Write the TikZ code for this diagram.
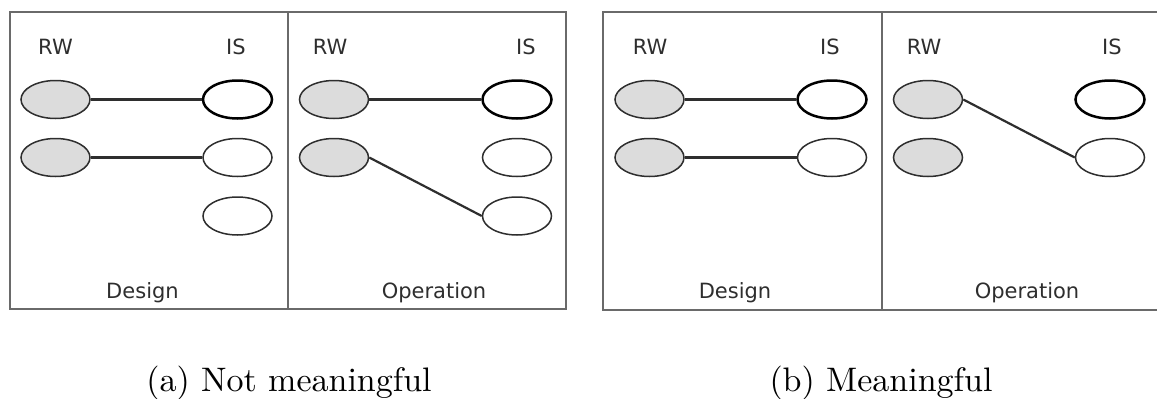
\documentclass[tikz,border=0pt]{standalone}
\usepackage{fontspec}
\newfontfamily\handfont{DejaVu Sans}
\usetikzlibrary{shapes.geometric}
\definecolor{frame}{HTML}{6A6A6A}
\definecolor{ink}{HTML}{2E2E2E}
\definecolor{rwfill}{HTML}{DCDCDC}
\tikzset{
  panel/.style={draw=frame, line width=2pt},
  rw/.style={ellipse, draw=ink, line width=1.5pt, fill=rwfill, minimum width=69pt, minimum height=38pt, inner sep=0pt},
  is/.style={ellipse, draw=ink, line width=1.5pt, fill=white, minimum width=69pt, minimum height=38pt, inner sep=0pt},
  istop/.style={is, draw=black, line width=2.5pt},
  link/.style={draw=ink, line width=2.2pt},
  head/.style={font=\handfont\fontsize{21}{24}\selectfont, text=ink, anchor=base, inner sep=0pt},
  subcap/.style={anchor=base, inner sep=0pt}
}
\begin{document}
\begin{tikzpicture}[x=1pt, y=-1pt]
\useasboundingbox (0,0) rectangle (1157,399);
\begin{scope}
\clip (0,0) rectangle (1157,399);
% frames
\draw[panel] (10,12) rectangle (566,309);
\draw[panel] (288,12) -- (288,309);
\draw[panel] (603,12) rectangle (1162,310);
\draw[panel] (882,12) -- (882,310);
\end{scope}

% (a) design
\node[head] (aDrw) at (55.5,54) {RW};
\node[head] (aDis) at (236,54) {IS};
\node[rw] (aD1) at (55.5,99.5) {};
\node[rw] (aD2) at (55.5,157.5) {};
\node[istop] (aDi1) at (237.5,99.5) {};
\node[is] (aDi2) at (237.5,157.5) {};
\node[is] (aDi3) at (237.5,216) {};
\draw[link] (aD1.east) -- (aDi1.west);
\draw[link] (aD2.east) -- (aDi2.west);
\node[head] (aDt) at (142.5,298) {Design};

% (a) operation
\node[head] (aOrw) at (330,54) {RW};
\node[head] (aOis) at (526,54) {IS};
\node[rw] (aO1) at (334,99.5) {};
\node[rw] (aO2) at (334,157.5) {};
\node[istop] (aOi1) at (517,99.5) {};
\node[is] (aOi2) at (517,157.5) {};
\node[is] (aOi3) at (517,216) {};
\draw[link] (aO1.east) -- (aOi1.west);
\draw[link] (aO2.east) -- (aOi3.west);
\node[head] (aOt) at (434,298) {Operation};

% (b) design
\node[head] (bDrw) at (650,54) {RW};
\node[head] (bDis) at (830,54) {IS};
\node[rw] (bD1) at (649.5,99.5) {};
\node[rw] (bD2) at (649.5,157.5) {};
\node[istop] (bDi1) at (832,99.5) {};
\node[is] (bDi2) at (832,157.5) {};
\draw[link] (bD1.east) -- (bDi1.west);
\draw[link] (bD2.east) -- (bDi2.west);
\node[head] (bDt) at (735,298) {Design};

% (b) operation
\node[head] (bOrw) at (924,54) {RW};
\node[head] (bOis) at (1112,54) {IS};
\node[rw] (bO1) at (928,99.5) {};
\node[rw] (bO2) at (928,157.5) {};
\node[istop] (bOi1) at (1110,99.5) {};
\node[is] (bOi2) at (1110,157.5) {};
\draw[link] (bO1.east) -- (bOi2.west);
\node[head] (bOt) at (1027,298) {Operation};

% sub-captions
\node[subcap] (capa) at (289,391) {\scalebox{3.4}{(a) Not meaningful}};
\node[subcap] (capb) at (881,391) {\scalebox{3.4}{(b) Meaningful}};
\end{tikzpicture}
\end{document}
